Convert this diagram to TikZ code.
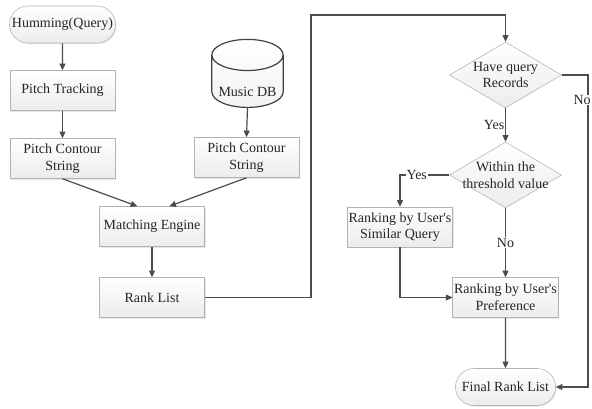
\documentclass[tikz,border=0pt]{standalone}
\usepackage{fontspec}
\setmainfont{Liberation Serif}
\usetikzlibrary{shapes.geometric,shapes.misc,arrows.meta,shadows}

\begin{document}
\begin{tikzpicture}[x=0.75pt,y=-0.75pt,
  font=\fontsize{10.5}{12.5}\selectfont, text=black!85,
  box/.style={draw=gray!60, top color=white, bottom color=gray!15,
    drop shadow={opacity=0.2,shadow xshift=0.8pt,shadow yshift=-0.8pt},
    minimum width=78.75pt, minimum height=30pt, align=center, inner sep=1pt},
  term/.style={box, rounded rectangle, minimum width=77pt, minimum height=27.75pt},
  decision/.style={draw=gray!60, top color=white, bottom color=gray!15, diamond,
    aspect=1.7, minimum width=84pt, minimum height=49.5pt, align=center,
    inner xsep=-12pt, inner ysep=0pt},
  store/.style={draw=black!75, line width=0.9pt, cylinder, shape border rotate=90,
    aspect=3.5, top color=white, bottom color=gray!10,
    minimum width=53.5pt, minimum height=51pt},
  flow/.style={draw=black!70, line width=0.9pt, -{Triangle[length=5pt,width=4.5pt]}},
  tag/.style={fill=white, inner sep=0.5pt}]
\useasboundingbox (0,0) rectangle (592,408);
\node[term] (Humming) at (62.5,24.5) {Humming(Query)};
\node[box] (PitchTrack) at (62.5,90.5) {Pitch Tracking};
\node[box] (PitchStrL) at (62.5,158.5) {Pitch Contour\\String};
\node[store, anchor=south] (MusicDB) at (247.5,108) {};
\node (MusicDBText) at ([yshift=12pt]MusicDB.south) {Music DB};
\node[box] (PitchStrR) at (246.5,157.5) {Pitch Contour\\String};
\node[box] (Matching) at (152,226.5) {Matching Engine};
\node[box] (RankList) at (152,297.5) {Rank List};
\node[decision] (HaveQuery) at (505.5,75) {Have query\\Records};
\node[decision] (Within) at (505.5,175) {Within the\\threshold value};
\node[box] (SimQuery) at (400,227) {Ranking by User\textquotesingle s\\Similar Query};
\node[box] (Pref) at (505.5,297.5) {Ranking by User\textquotesingle s\\Preference};
\node[term] (FinalRank) at (505.5,387) {Final Rank List};
\coordinate (LoopTop) at (311,15);
\coordinate (NoTurn) at (588,75);
    \draw[flow] (Humming) -- (PitchTrack);
    \draw[flow] (PitchTrack) -- (PitchStrL);
    \draw[flow] (MusicDB.south) -- (PitchStrR.north);
    \draw[flow] (PitchStrL.south) -- ([xshift=-11pt]Matching.north);
    \draw[flow] (PitchStrR.south) -- ([xshift=13pt]Matching.north);
    \draw[flow] (Matching) -- (RankList);
    \draw[flow] (RankList.east) -| (LoopTop) -| (HaveQuery.north);
    \draw[flow] (HaveQuery) -- node[tag, anchor=east, fill=none] {Yes} (Within);
    \draw[flow] (Within.west) -| node[tag, pos=0.33] {Yes} (SimQuery.north);
    \draw[flow] (Within) -- node[tag] {No} (Pref);
    \draw[flow] (SimQuery.south) |- (Pref.west);
    \draw[flow] (Pref) -- (FinalRank);
    \draw[flow] (HaveQuery.east) -- (NoTurn) |- node[tag, pos=0.04, anchor=east, xshift=3pt] {No} (FinalRank.east);
\end{tikzpicture}
\end{document}
